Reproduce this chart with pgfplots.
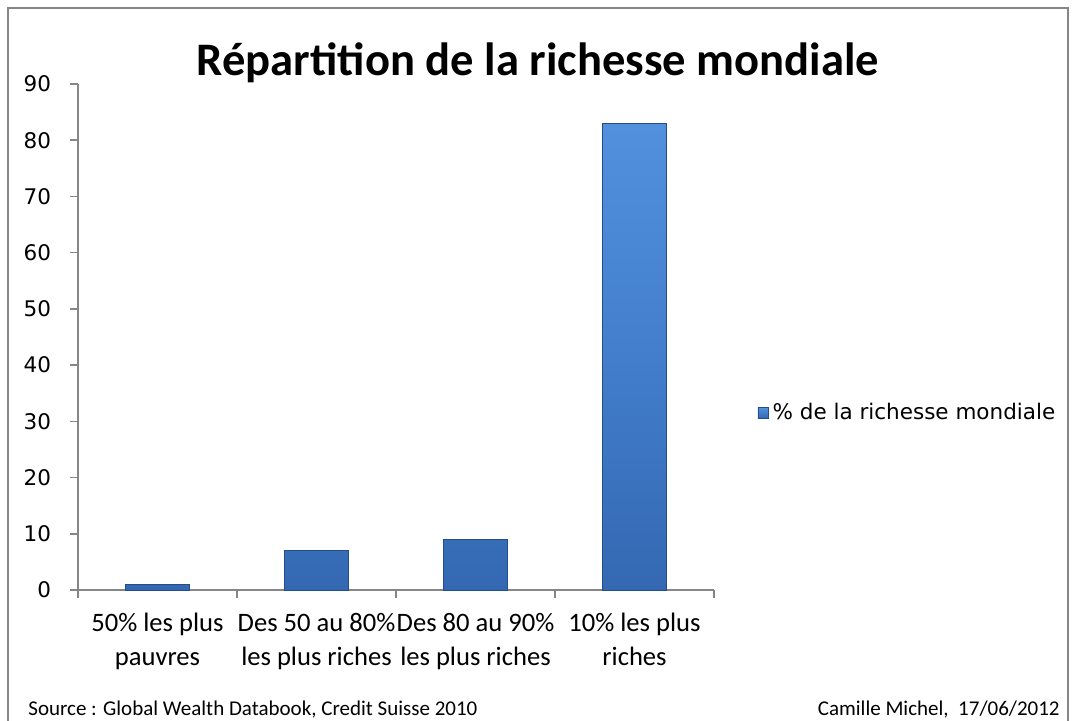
\documentclass[border=0pt]{standalone}
\usepackage{fontspec}
\usepackage{pgfplots}
\pgfplotsset{compat=1.18}
\setmainfont{Carlito}
\newfontfamily\dejavu{DejaVu Sans}
\definecolor{axgray}{RGB}{134,134,134}
\definecolor{bartop}{RGB}{82,144,222}
\definecolor{barmid}{RGB}{66,126,204}
\definecolor{barbot}{RGB}{52,104,178}
\definecolor{baredge}{RGB}{36,78,138}
\begin{document}
\begin{tikzpicture}[x=1pt,y=1pt]
\useasboundingbox (0,0) rectangle (538,360);
\draw[axgray, line width=0.8pt] (4,-2) -- (4,356) -- (534,356) -- (534,-2);
\begin{axis}[
  at={(39pt,65pt)}, anchor=south west,
  scale only axis, width=318pt, height=253pt,
  xmin=-0.5, xmax=3.5, ymin=0, ymax=90,
  axis lines*=left,
  axis line style={axgray, line width=0.8pt},
  tick align=outside,
  ytick={0,10,...,90},
  major tick length=4pt, minor tick length=4pt,
  tick style={axgray, line width=0.8pt},
  xtick={0,1,2,3},
  major x tick style={draw=none},
  minor xtick={-0.5,0.5,1.5,2.5,3.5},
  xticklabels={{50\% les plus\\pauvres},{Des 50 au 80\%\\les plus riches},{Des 80 au 90\%\\les plus riches},{10\% les plus\\riches}},
  xticklabel style={font=\fontsize{13.3}{17}\selectfont, align=center, yshift=-4pt},
  yticklabel style={font=\dejavu\fontsize{10.75}{13}\selectfont, xshift=-6pt},
  /pgf/number format/assume math mode=true,
  ybar, bar width=32pt, bar shift=0pt,
  legend style={draw=none, fill=none, at={(1.068,0.35)}, anchor=west, font=\dejavu\fontsize{10.75}{13}\selectfont, inner sep=0pt},
  legend image code/.code={\fill[top color=bartop, bottom color=barbot, draw=baredge, line width=0.3pt] (0pt,-2.6pt) rectangle (5.2pt,2.6pt);},
]
\addplot[top color=bartop, bottom color=barbot, middle color=barmid, draw=baredge, line width=0.5pt] coordinates {(0,1) (1,7) (2,9) (3,83)};
\addlegendentry{\% de la richesse mondiale}
\end{axis}
\node[font=\bfseries\fontsize{23.3}{28}\selectfont, anchor=base] at (269,322.5) {Répartition de la richesse mondiale};
\node[font=\fontsize{10.5}{12}\selectfont, anchor=base west, inner sep=0pt] at (14,2.5) {Source : Global Wealth Databook, Credit Suisse 2010};
\node[font=\fontsize{10.5}{12}\selectfont, anchor=base east, inner sep=0pt] at (530,2.5) {Camille Michel,~~17/06/2012};
\end{tikzpicture}
\end{document}
